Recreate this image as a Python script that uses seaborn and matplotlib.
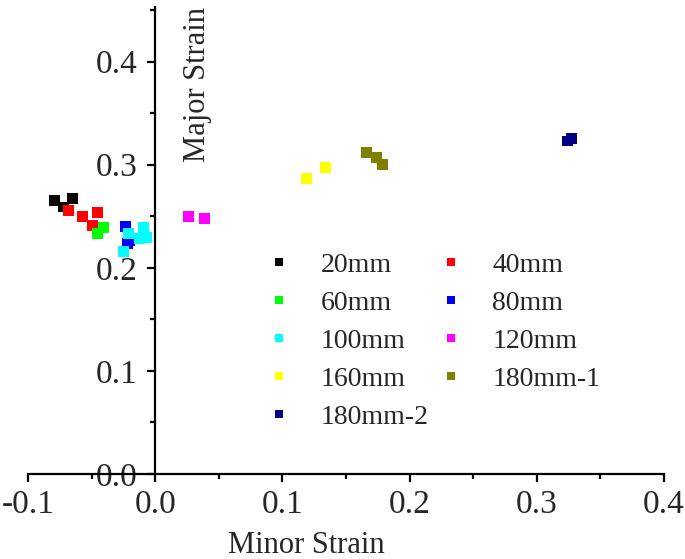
import numpy as np
import pandas as pd
import seaborn as sns
import matplotlib.pyplot as plt
from matplotlib.ticker import MultipleLocator, FormatStrFormatter

# data
labels = ['20mm', '40mm', '60mm', '80mm', '100mm', '120mm', '160mm', '180mm-1', '180mm-2']
colors = ['#000000', '#FF0000', '#00FF00', '#0000FF', '#00FFFF', '#FF00FF', '#FFFF00', '#808000', '#000080']

minor_20 = [-0.079, -0.072, -0.065]
major_20 = [0.265, 0.259, 0.267]
minor_40 = [-0.068, -0.057, -0.045, -0.049]
major_40 = [0.256, 0.250, 0.254, 0.241]
minor_60 = [-0.045, -0.041]
major_60 = [0.233, 0.239]
minor_80 = [-0.023, -0.022, -0.020]
major_80 = [0.240, 0.224, 0.226]
minor_100 = [-0.021, -0.009, -0.012, -0.007, -0.025]
major_100 = [0.233, 0.239, 0.228, 0.229, 0.216]
minor_120 = [0.026, 0.039]
major_120 = [0.250, 0.248]
minor_160 = [0.119, 0.134]
major_160 = [0.287, 0.297]
minor_180_1 = [0.166, 0.174, 0.179]
major_180_1 = [0.312, 0.307, 0.300]
minor_180_2 = [0.324, 0.327]
major_180_2 = [0.323, 0.325]

xs = [minor_20, minor_40, minor_60, minor_80, minor_100, minor_120, minor_160, minor_180_1, minor_180_2]
ys = [major_20, major_40, major_60, major_80, major_100, major_120, major_160, major_180_1, major_180_2]

rows = []
for lab, x, y in zip(labels, xs, ys):
    for a, b in zip(x, y):
        rows.append({'Minor Strain': a, 'Major Strain': b, 'group': lab})
df = pd.DataFrame(rows)

sns.set_theme(style='ticks')
plt.rcParams['font.family'] = ['Liberation Serif', 'DejaVu Serif']

fig = plt.figure(figsize=(6.85, 5.59), dpi=100)
ax = fig.add_axes([28 / 685, 1 - 474 / 559, 636 / 685, 467 / 559])

sns.scatterplot(data=df, x='Minor Strain', y='Major Strain', hue='group',
                hue_order=labels, palette=colors, marker='s', s=62,
                linewidth=0, ax=ax)

ax.set_xlim(-0.1, 0.4)
ax.set_ylim(0, 0.453)
ax.spines['left'].set_position(('data', 0))
ax.spines['top'].set_visible(False)
ax.spines['right'].set_visible(False)
for sp in ['left', 'bottom']:
    ax.spines[sp].set_linewidth(1.6)
    ax.spines[sp].set_color('black')

ax.xaxis.set_major_locator(MultipleLocator(0.1))
ax.xaxis.set_minor_locator(MultipleLocator(0.05))
ax.yaxis.set_major_locator(MultipleLocator(0.1))
ax.yaxis.set_minor_locator(MultipleLocator(0.05))
ax.xaxis.set_major_formatter(FormatStrFormatter('%.1f'))
ax.yaxis.set_major_formatter(FormatStrFormatter('%.1f'))
ax.tick_params(which='major', length=6, width=1.6, labelsize=24, color='black')
ax.tick_params(which='minor', length=3.5, width=1.6, color='black')
ax.tick_params(axis='y', pad=7)
ax.tick_params(axis='x', pad=5)

ax.set_xlabel('')
ax.set_ylabel('')
fig.text(306 / 685, 1 - 531 / 559, 'Minor Strain', fontsize=22, ha='center', va='top')
fig.text(197 / 685, 1 - 162 / 559, 'Major Strain', fontsize=22, rotation=90,
         ha='center', va='bottom')

# legend filled row by row (matplotlib fills by column)
handles, names = ax.get_legend_handles_labels()
order = [0, 2, 4, 6, 8, 1, 3, 5, 7]
ax.legend([handles[i] for i in order], [names[i] for i in order],
          loc='center', bbox_to_anchor=(0.636, 0.285), ncol=2, frameon=False,
          fontsize=20, markerscale=0.7, handlelength=1.0, handletextpad=1.0,
          columnspacing=0.3, labelspacing=0.45)

fig.savefig('out.png', dpi=100)
